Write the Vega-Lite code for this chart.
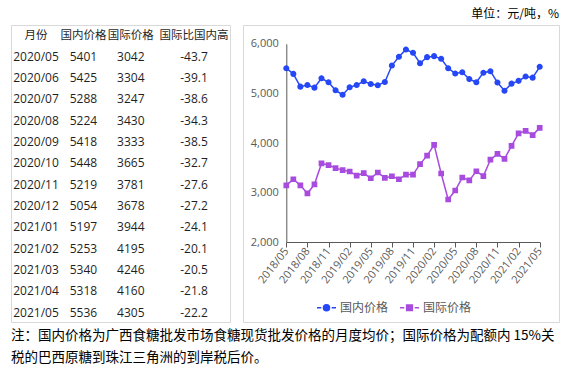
{
  "$schema": "https://vega.github.io/schema/vega-lite/v6.json",
  "padding": {"left": 10, "top": 7, "right": 2, "bottom": 0},
  "background": "white",
  "datasets": {
    "prices": [
      {"月份": "2018/05", "国内价格": 5508, "国际价格": 3146},
      {"月份": "2018/06", "国内价格": 5393, "国际价格": 3269},
      {"月份": "2018/07", "国内价格": 5136, "国际价格": 3146},
      {"月份": "2018/08", "国内价格": 5170, "国际价格": 2983},
      {"月份": "2018/09", "国内价格": 5116, "国际价格": 3167},
      {"月份": "2018/10", "国内价格": 5305, "国际价格": 3589},
      {"月份": "2018/11", "国内价格": 5224, "国际价格": 3555},
      {"月份": "2018/12", "国内价格": 5062, "国际价格": 3493},
      {"月份": "2019/01", "国内价格": 4974, "国际价格": 3453},
      {"月份": "2019/02", "国内价格": 5123, "国际价格": 3425},
      {"月份": "2019/03", "国内价格": 5170, "国际价格": 3344},
      {"月份": "2019/04", "国内价格": 5244, "国际价格": 3391},
      {"月份": "2019/05", "国内价格": 5190, "国际价格": 3289},
      {"月份": "2019/06", "国内价格": 5163, "国际价格": 3405},
      {"月份": "2019/07", "国内价格": 5231, "国际价格": 3296},
      {"月份": "2019/08", "国内价格": 5562, "国际价格": 3330},
      {"月份": "2019/09", "国内价格": 5738, "国际价格": 3269},
      {"月份": "2019/10", "国内价格": 5886, "国际价格": 3364},
      {"月份": "2019/11", "国内价格": 5819, "国际价格": 3364},
      {"月份": "2019/12", "国内价格": 5609, "国际价格": 3575},
      {"月份": "2020/01", "国内价格": 5731, "国际价格": 3745},
      {"月份": "2020/02", "国内价格": 5751, "国际价格": 3963},
      {"月份": "2020/03", "国内价格": 5697, "国际价格": 3385},
      {"月份": "2020/04", "国内价格": 5508, "国际价格": 2861},
      {"月份": "2020/05", "国内价格": 5401, "国际价格": 3042, "国际比国内高": -43.7},
      {"月份": "2020/06", "国内价格": 5425, "国际价格": 3304, "国际比国内高": -39.1},
      {"月份": "2020/07", "国内价格": 5288, "国际价格": 3247, "国际比国内高": -38.6},
      {"月份": "2020/08", "国内价格": 5224, "国际价格": 3430, "国际比国内高": -34.3},
      {"月份": "2020/09", "国内价格": 5418, "国际价格": 3333, "国际比国内高": -38.5},
      {"月份": "2020/10", "国内价格": 5448, "国际价格": 3665, "国际比国内高": -32.7},
      {"月份": "2020/11", "国内价格": 5219, "国际价格": 3781, "国际比国内高": -27.6},
      {"月份": "2020/12", "国内价格": 5054, "国际价格": 3678, "国际比国内高": -27.2},
      {"月份": "2021/01", "国内价格": 5197, "国际价格": 3944, "国际比国内高": -24.1},
      {"月份": "2021/02", "国内价格": 5253, "国际价格": 4195, "国际比国内高": -20.1},
      {"月份": "2021/03", "国内价格": 5340, "国际价格": 4246, "国际比国内高": -20.5},
      {"月份": "2021/04", "国内价格": 5318, "国际价格": 4160, "国际比国内高": -21.8},
      {"月份": "2021/05", "国内价格": 5536, "国际价格": 4305, "国际比国内高": -22.2}
    ]
  },
  "title": {
    "text": ["注：国内价格为广西食糖批发市场食糖现货批发价格的月度均价；国际价格为配额内 15%关", "税的巴西原糖到珠江三角洲的到岸税后价。"],
    "orient": "bottom",
    "anchor": "start",
    "frame": "group",
    "font": "Noto Sans CJK SC",
    "fontSize": 13.5,
    "fontWeight": "normal",
    "color": "#000000",
    "lineHeight": 22,
    "offset": 6
  },
  "spacing": 11,
  "hconcat": [
    {
      "width": 219,
      "height": 297,
      "data": {"name": "prices"},
      "transform": [
        {"filter": "datum['月份'] >= '2020/05'"},
        {"fold": ["月份", "国内价格", "国际价格", "国际比国内高"], "as": ["col", "val"]}
      ],
      "encoding": {
        "x": {
          "field": "col",
          "type": "nominal",
          "scale": {
            "type": "point",
            "domain": ["月份", "_a", "_b", "国内价格", "_c", "_d", "国际价格", "_e", "_f", "_g", "国际比国内高"],
            "padding": 0,
            "range": [25, 183]
          },
          "axis": null
        }
      },
      "layer": [
        {
          "mark": {"type": "text", "font": "'Open Sans', 'Noto Sans CJK SC'", "fontSize": 12, "color": "#1F1F1F", "align": "center", "baseline": "middle"},
          "encoding": {
            "y": {
              "field": "月份",
              "type": "ordinal",
              "scale": {
                "type": "point",
                "domain": ["月份", "2020/05", "2020/06", "2020/07", "2020/08", "2020/09", "2020/10", "2020/11", "2020/12", "2021/01", "2021/02", "2021/03", "2021/04", "2021/05"],
                "padding": 0,
                "range": [10.5, 287.5]
              },
              "axis": null
            },
            "text": {"field": "val", "type": "nominal"}
          }
        },
        {
          "transform": [{"aggregate": [{"op": "count", "as": "n"}], "groupby": ["col"]}],
          "mark": {"type": "text", "font": "Noto Sans CJK SC", "fontSize": 11.5, "color": "#1F1F1F", "align": "center", "baseline": "middle"},
          "encoding": {
            "y": {"datum": "月份", "type": "ordinal"},
            "text": {"field": "col", "type": "nominal"}
          }
        }
      ]
    },
    {
      "width": 316,
      "height": 297,
      "title": {
        "text": "单位：元/吨，%",
        "anchor": "end",
        "frame": "group",
        "font": "Noto Sans CJK SC",
        "fontSize": 12,
        "fontWeight": "normal",
        "color": "#000000",
        "offset": 4
      },
      "data": {"name": "prices"},
      "transform": [{"fold": ["国内价格", "国际价格"], "as": ["series", "price"]}],
      "encoding": {
        "x": {
          "field": "月份",
          "type": "ordinal",
          "scale": {"type": "point", "padding": 0, "range": [43.3, 296.7]},
          "axis": {
            "title": null,
            "offset": -80,
            "values": ["2018/05", "2018/08", "2018/11", "2019/02", "2019/05", "2019/08", "2019/11", "2020/02", "2020/05", "2020/08", "2020/11", "2021/02", "2021/05"],
            "labelAngle": -52,
            "labelFont": "Open Sans",
            "labelFontSize": 11,
            "labelColor": "#595959",
            "labelPadding": 2,
            "tickSize": 5,
            "tickColor": "#595959",
            "domainColor": "#595959",
            "grid": false
          }
        },
        "y": {
          "field": "price",
          "type": "quantitative",
          "scale": {"domain": [2000, 6000], "range": [217.2, 18.8], "nice": false, "zero": false},
          "axis": {
            "title": null,
            "offset": -43.3,
            "values": [2000, 3000, 4000, 5000, 6000],
            "format": ",.0f",
            "ticks": false,
            "labelPadding": 8,
            "labelFont": "Open Sans",
            "labelFontSize": 11,
            "labelColor": "#595959",
            "domainColor": "#595959",
            "grid": false
          }
        },
        "color": {
          "field": "series",
          "type": "nominal",
          "scale": {"domain": ["国内价格", "国际价格"], "range": ["#2547F6", "#A84BDF"]},
          "legend": {
            "title": null,
            "orient": "none",
            "direction": "horizontal",
            "legendX": 305,
            "legendY": 272,
            "symbolSize": 361,
            "labelFont": "Noto Sans CJK SC",
            "labelFontSize": 12,
            "labelColor": "#595959",
            "columnPadding": 8,
            "labelOffset": 3,
            "encode": {
              "symbols": {
                "update": {
                  "stroke": {"scale": "color", "field": "value"},
                  "fill": {"scale": "color", "field": "value"},
                  "strokeWidth": {"value": 1.5},
                  "opacity": {"value": 1}
                }
              }
            }
          }
        }
      },
      "layer": [
        {"mark": {"type": "line", "strokeWidth": 1.5}},
        {
          "mark": {"type": "point", "filled": true, "size": 361, "opacity": 1, "strokeWidth": 0},
          "encoding": {
            "shape": {
              "field": "series",
              "type": "nominal",
              "scale": {
                "domain": ["国内价格", "国际价格"],
                "range": [
                  "M-1,0L-0.55,0M0.55,0L1,0M-0.32,0A0.32,0.32,0,1,1,0.32,0A0.32,0.32,0,1,1,-0.32,0Z",
                  "M-1,0L-0.55,0M0.55,0L1,0M-0.3,-0.3L0.3,-0.3L0.3,0.3L-0.3,0.3Z"
                ]
              },
              "legend": {
                "title": null,
                "orient": "none",
                "direction": "horizontal",
                "legendX": 305,
                "legendY": 272,
                "symbolSize": 361,
                "labelFont": "Noto Sans CJK SC",
                "labelFontSize": 12,
                "labelColor": "#595959",
                "columnPadding": 8,
                "labelOffset": 3
              }
            }
          }
        }
      ]
    }
  ],
  "config": {
    "view": {"stroke": "#D9D9D9", "strokeWidth": 1}
  }
}
